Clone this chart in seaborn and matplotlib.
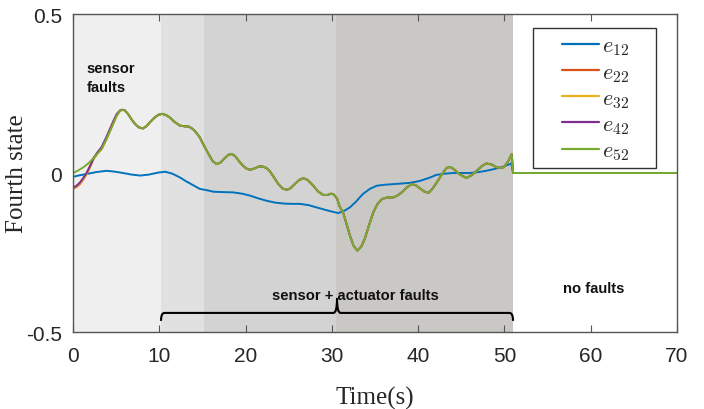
import numpy as np
import pandas as pd
import matplotlib
matplotlib.use("Agg")
import matplotlib.pyplot as plt
from matplotlib.path import Path
from matplotlib.patches import PathPatch, Rectangle
from matplotlib.lines import Line2D
import seaborn as sns

# ---------------- data ----------------
# e12 (blue)
t_e12 = [0, 0.8, 1.6, 2.7, 3.9, 4.9, 5.8, 6.8, 7.8, 8.8, 9.8, 10.7, 11.5, 12.4,
         13.1, 13.9, 14.7, 15.5, 16.3, 17.4, 18.6, 19.6, 20.5, 21.5, 22.4, 23.4,
         24.4, 25.3, 26.3, 27.3, 28.2, 29.0, 29.8, 30.75, 31.5, 32.1, 32.8, 33.6,
         34.4, 35.2, 36.1, 37.1, 38.1, 39.05, 40.2, 41.4, 42.1, 43.1, 44.1, 45.0,
         46.0, 47.0, 47.9, 48.9, 49.9, 50.8, 51.0, 70]
e12 = [-0.012, -0.007, -0.003, 0.003, 0.007, 0.004, 0.0, -0.005, -0.008, -0.005,
       0.001, 0.004, -0.002, -0.014, -0.026, -0.038, -0.05, -0.054, -0.059, -0.06,
       -0.061, -0.065, -0.071, -0.08, -0.087, -0.093, -0.096, -0.097, -0.097,
       -0.101, -0.108, -0.114, -0.12, -0.126, -0.118, -0.108, -0.09, -0.066, -0.05,
       -0.04, -0.037, -0.035, -0.033, -0.031, -0.025, -0.014, -0.006, -0.002, 0.0,
       0.0, 0.0, 0.003, 0.007, 0.013, 0.02, 0.03, 0.0, 0.0]

# e52 (green) - the other three coincide with it after the first seconds
t_e52 = [0.0, 0.6, 1.2, 1.8, 2.35, 2.8, 3.3, 3.8, 4.3, 4.7, 5.06, 5.4, 5.7, 6.0,
         6.4, 6.8, 7.2, 7.6, 8.1, 8.5, 8.9, 9.4, 9.9, 10.3, 10.8, 11.2, 11.8, 12.4,
         12.9, 13.4, 13.8, 14.1, 14.7, 15.1, 15.7, 16.2, 16.65, 17.1, 17.6, 18.0,
         18.4, 18.8, 19.3, 19.7, 20.1, 20.5, 21.0, 21.5, 21.9, 22.4, 22.8, 23.3,
         23.8, 24.3, 24.8, 25.2, 25.7, 26.2, 26.7, 27.2, 27.85, 28.4, 29.0, 29.5,
         29.9, 30.2, 30.6, 30.9, 31.3, 31.7, 32.1, 32.5, 32.95, 33.4, 33.8, 34.3,
         34.8, 35.3, 35.8, 36.4, 37.1, 37.6, 38.1, 38.7, 39.25, 39.7, 40.2, 40.7,
         41.2, 41.7, 42.3, 42.8, 43.3, 43.7, 44.1, 44.8, 45.6, 46.2, 46.8, 47.4,
         47.9, 48.5, 49.1, 49.5, 49.9, 50.4, 50.85, 51.0, 70]
e52 = [0.0, 0.008, 0.018, 0.031, 0.046, 0.06, 0.075, 0.102, 0.133, 0.158, 0.18,
       0.194, 0.199, 0.197, 0.185, 0.168, 0.154, 0.144, 0.14, 0.147, 0.159, 0.173,
       0.183, 0.186, 0.182, 0.175, 0.16, 0.149, 0.147, 0.146, 0.14, 0.133, 0.112,
       0.09, 0.06, 0.037, 0.028, 0.033, 0.047, 0.057, 0.06, 0.053, 0.035, 0.023,
       0.014, 0.01, 0.014, 0.02, 0.021, 0.016, 0.006, -0.014, -0.035, -0.049,
       -0.053, -0.048, -0.035, -0.022, -0.016, -0.022, -0.04, -0.058, -0.069,
       -0.069, -0.065, -0.067, -0.08, -0.105, -0.124, -0.16, -0.197, -0.228,
       -0.244, -0.232, -0.208, -0.165, -0.124, -0.097, -0.082, -0.077, -0.077,
       -0.071, -0.061, -0.045, -0.035, -0.038, -0.048, -0.058, -0.063, -0.048,
       -0.024, -0.002, 0.016, 0.019, 0.013, -0.004, -0.016, -0.007, 0.007, 0.022,
       0.03, 0.027, 0.018, 0.016, 0.018, 0.035, 0.06, 0.0, 0.0]

# initial transients of e22, e32, e42 before they merge with e52
t_e22_start = [0, 0.4, 0.8, 1.2, 1.6, 2.0, 2.4]
e22_start = [-0.05, -0.044, -0.035, -0.02, -0.003, 0.02, 0.045]
t_e32_start = [0, 0.4, 0.8, 1.2, 1.6, 2.0, 2.4]
e32_start = [-0.048, -0.042, -0.033, -0.018, -0.001, 0.022, 0.046]
t_e42_start = [0, 0.4, 0.8, 1.2, 1.6, 2.0, 2.4, 2.8, 3.3, 3.8, 4.3, 4.7, 5.06, 5.4]
e42_start = [-0.046, -0.04, -0.03, -0.015, 0.002, 0.024, 0.048, 0.064, 0.081, 0.109,
             0.14, 0.165, 0.185, 0.196]

series_names = ["$e_{12}$", "$e_{22}$", "$e_{32}$", "$e_{42}$", "$e_{52}$"]
series_colors = ["#0072BD", "#D95319", "#EDB120", "#7E2F8E", "#77AC30"]

band_edges = [0, 10.2, 15.2, 30.5, 51.0]
band_colors = ["#efefef", "#e1e1e1", "#d3d3d3", "#cac8c5"]

x_ticks = [0, 10, 20, 30, 40, 50, 60, 70]
y_ticks = [-0.5, 0, 0.5]
y_ticklabels = ["-0.5", "0", "0.5"]


def merge(t_start, v_start):
    last = t_start[-1]
    tt = list(t_start) + [t for t in t_e52 if t > last]
    vv = list(v_start) + [v for t, v in zip(t_e52, e52) if t > last]
    return tt, vv


curves = [(t_e12, e12), merge(t_e22_start, e22_start), merge(t_e32_start, e32_start),
          merge(t_e42_start, e42_start), (t_e52, e52)]

frames = []
for name, (tt, vv) in zip(series_names, curves):
    frames.append(pd.DataFrame({"Time": tt, "value": vv, "series": name}))
df = pd.concat(frames, ignore_index=True)

# ---------------- plot ----------------
sns.set_style("ticks")
plt.rcParams["mathtext.fontset"] = "cm"
plt.rcParams["font.family"] = ["Liberation Sans", "DejaVu Sans"]

fig = plt.figure(figsize=(7.04, 4.10), dpi=100)
ax = fig.add_axes([0.1037, 0.1878, 0.8579, 0.7756])

for i, c in enumerate(band_colors):
    ax.axvspan(band_edges[i], band_edges[i + 1], color=c, lw=0, zorder=0)

sns.lineplot(data=df, x="Time", y="value", hue="series", hue_order=series_names,
             palette=series_colors, linewidth=1.4, ax=ax, sort=False,
             estimator=None, legend=False, zorder=3)

ax.set_xlim(0, 70)
ax.set_ylim(-0.5, 0.5)
ax.set_xticks(x_ticks)
ax.set_yticks(y_ticks)
ax.set_yticklabels(y_ticklabels)
ax.tick_params(axis="x", direction="in", length=5, top=True, bottom=True,
               labelsize=15, color="#555555", labelcolor="#262626", pad=10)
ax.tick_params(axis="y", length=0, labelsize=15, labelcolor="#262626", pad=8)
for s in ax.spines.values():
    s.set_visible(True)
    s.set_color("#555555")
    s.set_linewidth(1.0)
    s.set_zorder(5)

ax.set_xlabel("Time(s)", fontfamily="Liberation Serif", fontsize=18)
ax.set_ylabel("Fourth state", fontfamily="Liberation Serif", fontsize=18)
ax.xaxis.set_label_coords(0.5, -0.168)
ax.yaxis.set_label_coords(-0.0745, 0.5)

# legend: frame drawn separately to match the wide MATLAB-style box
ax.add_patch(Rectangle((0.7616, 0.5157), 0.2036, 0.4403, transform=ax.transAxes,
                       facecolor="white", edgecolor="#333333", lw=1.0, zorder=6))
handles = [Line2D([], [], color=c, lw=1.6) for c in series_colors]
leg = ax.legend(handles, series_names, loc="center left",
                bbox_to_anchor=(0.8096, 0.733), fontsize=16, frameon=False,
                handlelength=1.65, handletextpad=0.15, labelspacing=0.2,
                borderpad=0, borderaxespad=0)
leg.set_zorder(7)

# annotations
ax.text(1.6, 0.30, "sensor\nfaults", fontsize=10.6, fontweight="bold",
        ha="left", va="center", linespacing=1.45, color="#111111", zorder=4)
ax.text(32.7, -0.384, "sensor + actuator faults", fontsize=10.6,
        fontweight="bold", ha="center", va="center", color="#111111", zorder=4)
ax.text(60.4, -0.362, "no faults", fontsize=10.6, fontweight="bold",
        ha="center", va="center", color="#111111", zorder=4)

# brace
bl, bm, br = 10.2, 30.6, 51.0
by, bd, bt = -0.44, -0.465, -0.393
verts = [(bl, bd), (bl, by), (bl + 0.4, by), (bm - 0.4, by), (bm, by), (bm, bt),
         (bm, by), (bm + 0.4, by), (br - 0.4, by), (br, by), (br, bd)]
codes = [Path.MOVETO, Path.CURVE3, Path.CURVE3, Path.LINETO, Path.CURVE3, Path.CURVE3,
         Path.CURVE3, Path.CURVE3, Path.LINETO, Path.CURVE3, Path.CURVE3]
ax.add_patch(PathPatch(Path(verts, codes), fill=False, lw=1.5, color="black",
                       zorder=4))

fig.savefig("out.png", dpi=100)
